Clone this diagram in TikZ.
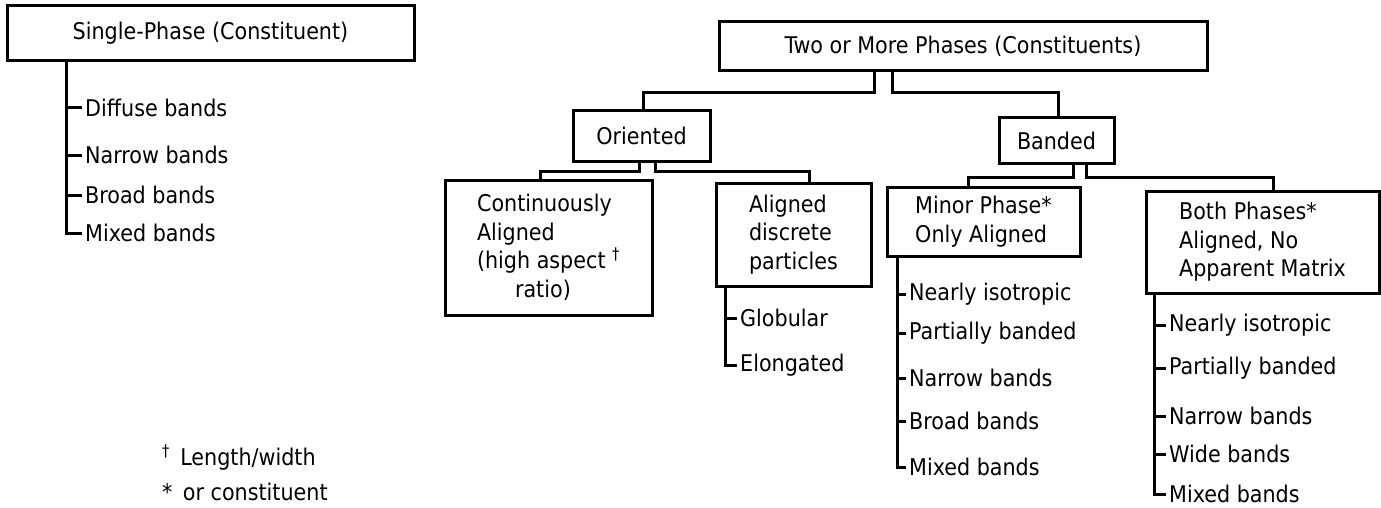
\documentclass[tikz,border=0pt]{standalone}
\usepackage{fontspec}
\setmainfont{DejaVu Sans Condensed}
\usetikzlibrary{positioning,calc}
\tikzset{
    box/.style={
        rectangle,
        draw=black,
        line width=3pt,
        align=left,
        inner sep=0pt,
        font=\fontsize{23}{28.5}\selectfont,
    },
    leaf/.style={
        anchor=west,
        inner xsep=3pt,
        inner ysep=0pt,
        font=\fontsize{23}{28.5}\selectfont,
    },
    branch/.style={
        draw,
        line width=3pt,
    },
}

\begin{document}
\begin{tikzpicture}[x=1pt,y=-1pt]
    \useasboundingbox (0,0) rectangle (1381,508);

    \node [box, minimum width=407pt, minimum height=55pt] (single) at (210.5,33.5) {Single-Phase (Constituent)};
    \node [box, minimum width=488pt, minimum height=49pt] (two) at (963,46.5) {Two or More Phases (Constituents)};
    \node [box, minimum width=137pt, minimum height=50pt] (oriented) at (641.5,136) {Oriented};
    \node [box, minimum width=115pt, minimum height=45pt] (banded) at (1056.5,140.5) {Banded};
    \node [box, minimum width=207pt, minimum height=135pt] (contin) at (548.5,247.5) {Continuously\\Aligned\\(high aspect \textsuperscript{†}\\\hspace*{38pt}ratio)};
    \node [box, minimum width=155pt, minimum height=103pt] (discrete) at (793.5,234.5) {Aligned\\discrete\\particles};
    \node [box, minimum width=193pt, minimum height=69pt] (minor) at (983.5,221.5) {Minor Phase*\\Only Aligned};
    \node [box, minimum width=233pt, minimum height=102pt] (both) at (1262.5,242) {Both Phases*\\Aligned, No\\Apparent Matrix};

    \node [leaf] (diffuseS) at (82,108) {Diffuse bands};
    \node [leaf] (narrowS) at (82,155) {Narrow bands};
    \node [leaf] (broadS) at (82,195) {Broad bands};
    \node [leaf] (mixedS) at (82,233) {Mixed bands};

    \node [leaf] (globular) at (737,318) {Globular};
    \node [leaf] (elongated) at (737,365) {Elongated};

    \node [leaf] (isoM) at (906,294) {Nearly isotropic};
    \node [leaf] (partM) at (906,333) {Partially banded};
    \node [leaf] (narrowM) at (906,378) {Narrow bands};
    \node [leaf] (broadM) at (906,421) {Broad bands};
    \node [leaf] (mixedM) at (906,467) {Mixed bands};

    \node [leaf] (isoB) at (1166,325) {Nearly isotropic};
    \node [leaf] (partB) at (1166,368) {Partially banded};
    \node [leaf] (narrowB) at (1166,416) {Narrow bands};
    \node [leaf] (wideB) at (1166,454) {Wide bands};
    \node [leaf] (mixedB) at (1166,494) {Mixed bands};

    \node [leaf] (dagnote) at (159,458) {\textsuperscript{†}\, Length/width};
    \node [leaf] (starnote) at (159,492) {*\, or constituent};

    % tree
    \coordinate (twoL) at (874,71);
    \coordinate (twoR) at (892,71);
    \coordinate (orL) at (639,161);
    \coordinate (orR) at (655,161);
    \coordinate (baL) at (1073,163);
    \coordinate (baR) at (1086,163);
    \draw [branch] (twoL) -- ++(0,22) -| ($(oriented.north)+(1.5,0)$);
    \draw [branch] (twoR) -- ++(0,22) -| ($(banded.north)+(1.5,0)$);
    \draw [branch] (orL) -- ++(0,10) -| ($(contin.north)+(-8.5,0)$);
    \draw [branch] (orR) -- ++(0,10) -| ($(discrete.north)+(15.5,0)$);
    \draw [branch] (baL) -- ++(0,14.5) -| ($(minor.north)+(-15.5,0)$);
    \draw [branch] (baR) -- ++(0,14.5) -| ($(both.north)+(10.5,0)$);

    % lists
    \coordinate (singleX) at (66,61);
    \coordinate (discreteX) at (725,286);
    \coordinate (minorX) at (897,256);
    \coordinate (bothX) at (1154,293);
    \draw [branch] (singleX) |- (mixedS.west);
    \draw [branch] (diffuseS.west) -- (diffuseS.west -| singleX);
    \draw [branch] (narrowS.west) -- (narrowS.west -| singleX);
    \draw [branch] (broadS.west) -- (broadS.west -| singleX);
    \draw [branch] (discreteX) |- (elongated.west);
    \draw [branch] (globular.west) -- (globular.west -| discreteX);
    \draw [branch] (minorX) |- (mixedM.west);
    \draw [branch] (isoM.west) -- (isoM.west -| minorX);
    \draw [branch] (partM.west) -- (partM.west -| minorX);
    \draw [branch] (narrowM.west) -- (narrowM.west -| minorX);
    \draw [branch] (broadM.west) -- (broadM.west -| minorX);
    \draw [branch] (bothX) |- (mixedB.west);
    \draw [branch] (isoB.west) -- (isoB.west -| bothX);
    \draw [branch] (partB.west) -- (partB.west -| bothX);
    \draw [branch] (narrowB.west) -- (narrowB.west -| bothX);
    \draw [branch] (wideB.west) -- (wideB.west -| bothX);
\end{tikzpicture}
\end{document}
